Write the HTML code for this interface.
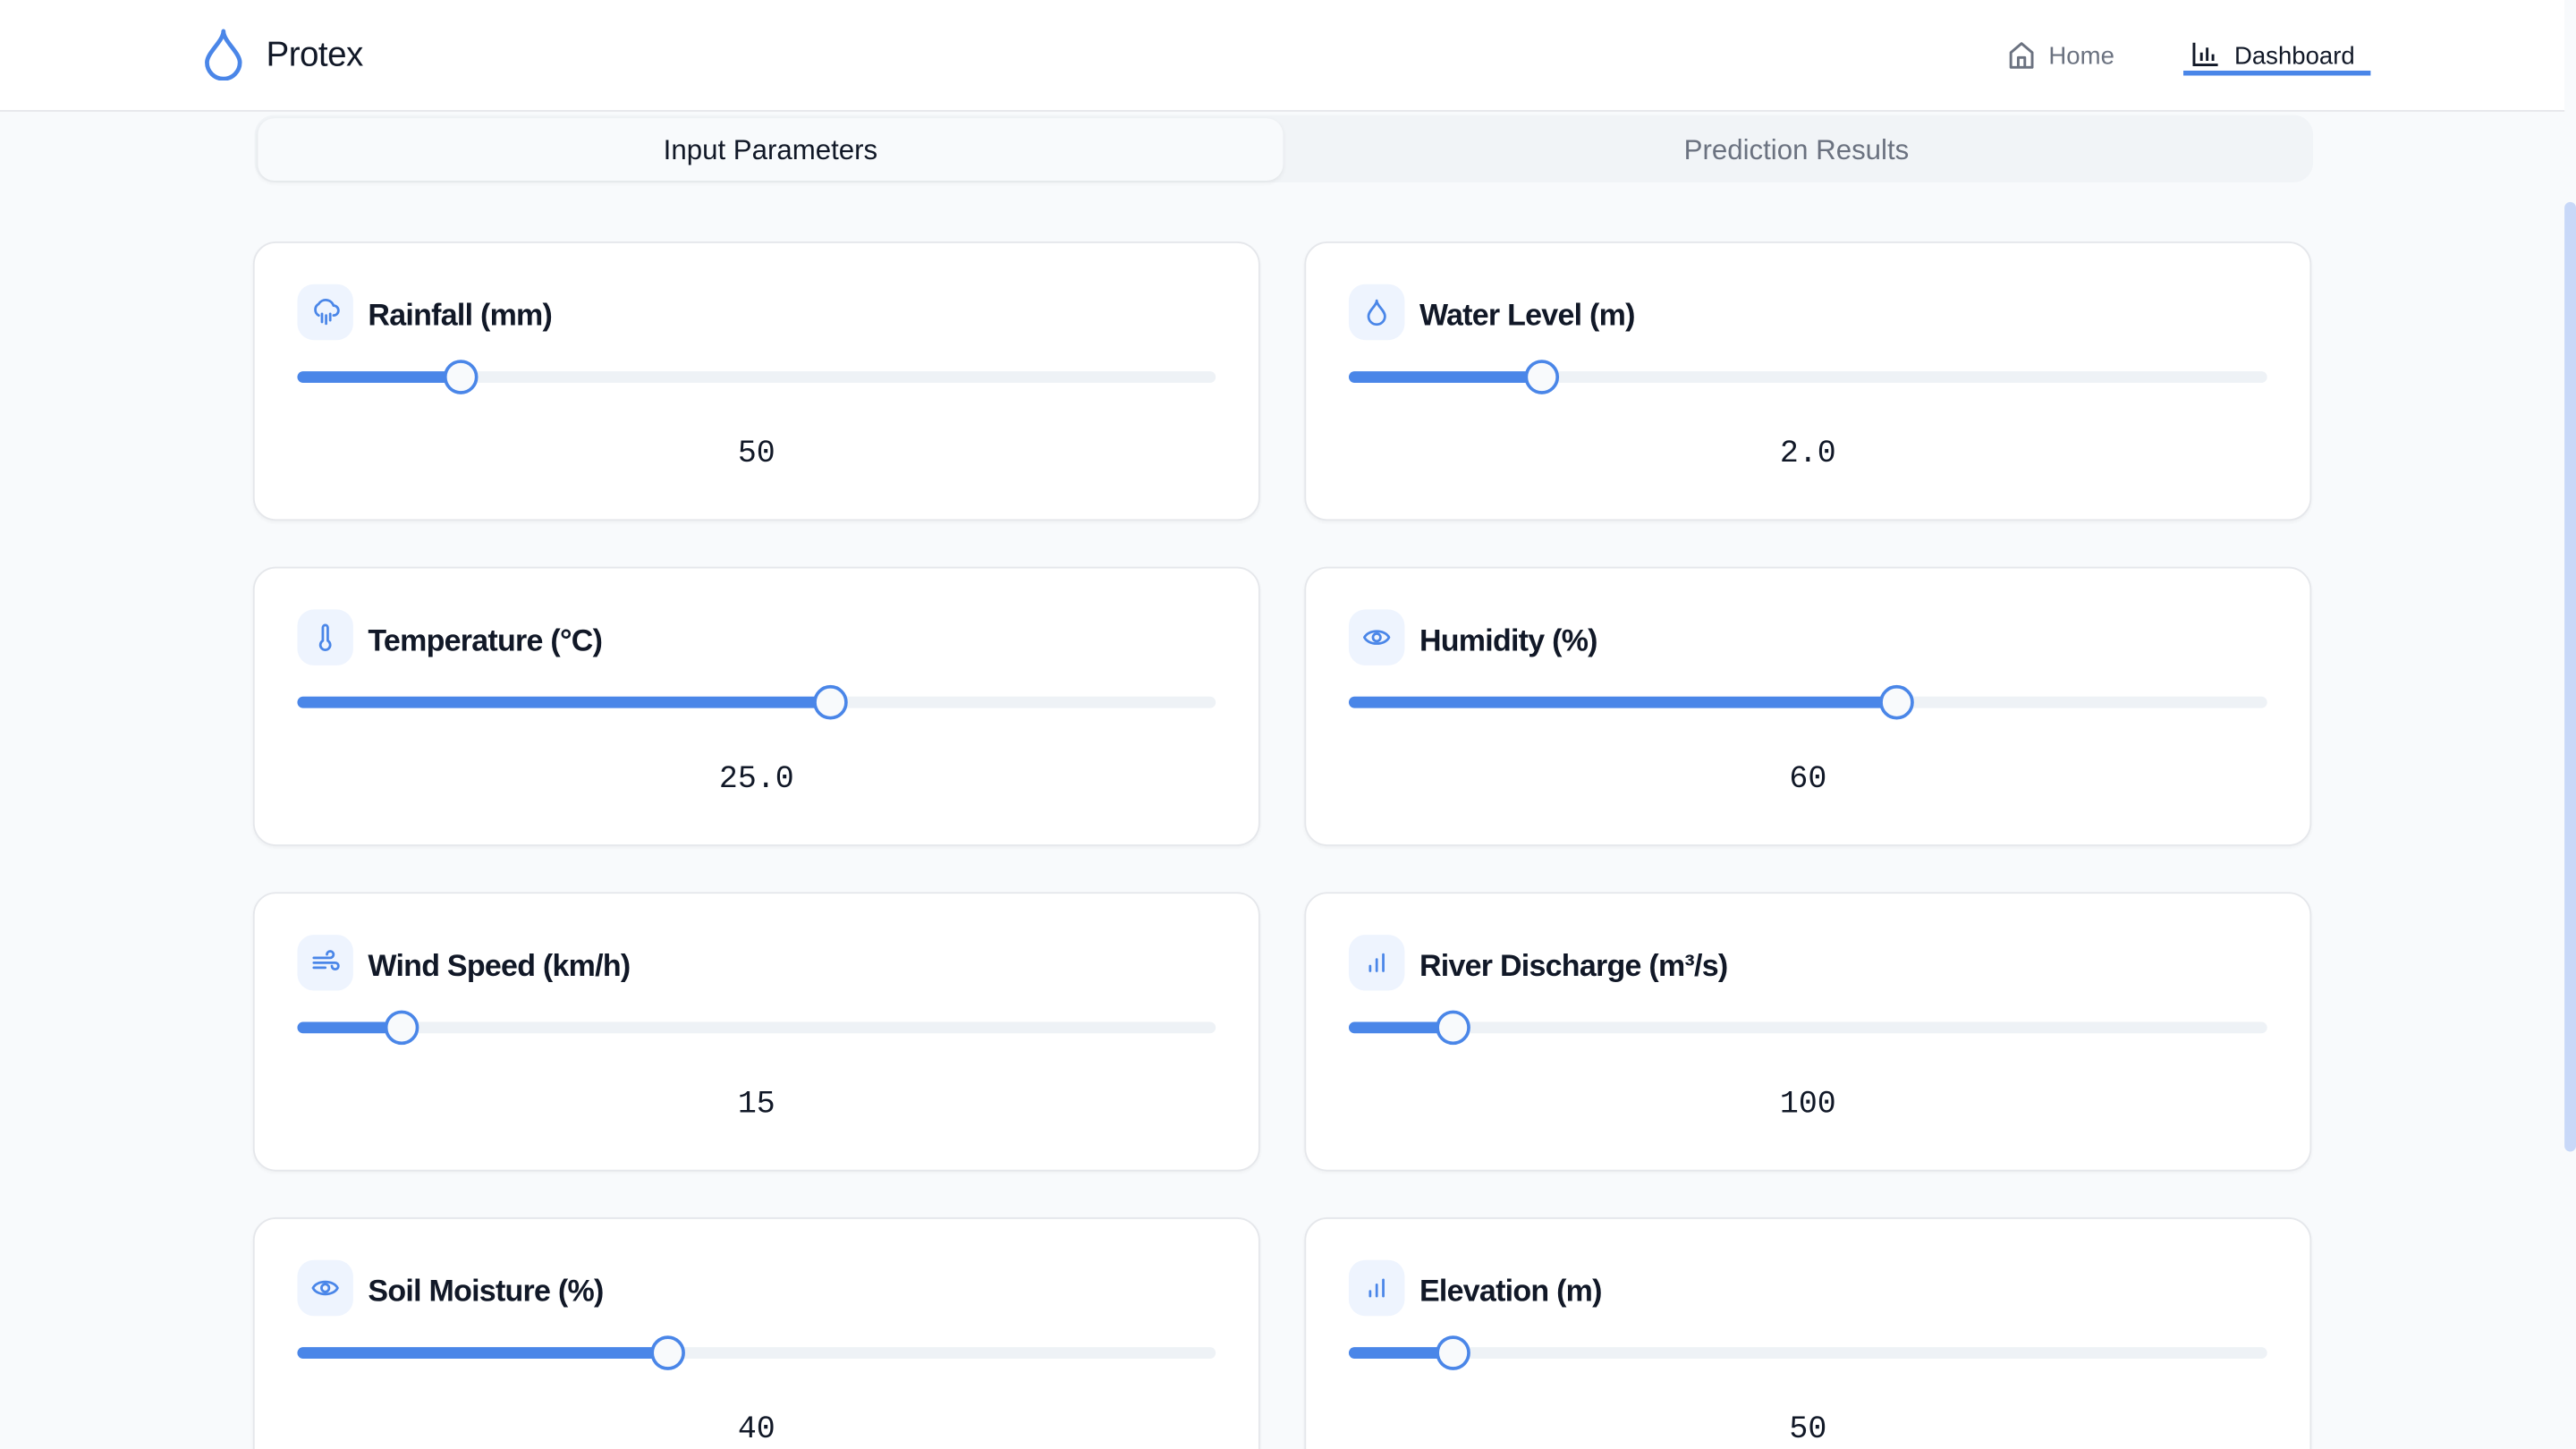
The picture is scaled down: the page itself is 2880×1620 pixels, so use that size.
<!DOCTYPE html>
<html><head><meta charset="utf-8"><style>
html,body{margin:0;padding:0;width:2880px;height:1620px;overflow:hidden;background:#f8fafc;}
#s{position:absolute;left:0;top:0;width:1568px;height:882px;transform:scale(1.836735);transform-origin:0 0;font-family:"Liberation Sans",sans-serif;background:#f8fafc;overflow:hidden;}
.hdr{position:absolute;left:0;top:0;width:1561px;height:67px;background:#fff;border-bottom:1.5px solid #e5e7eb;}
.abs{position:absolute;}
.card{position:absolute;width:613px;height:170px;background:#fff;border:1.5px solid #e5e7eb;border-radius:14px;box-sizing:border-box;box-shadow:0 1px 2px rgba(0,0,0,.04);}
.ib{position:absolute;left:26px;top:25px;width:34px;height:34px;border-radius:10px;background:#eef4fe;display:flex;align-items:center;justify-content:center;}
.tt{position:absolute;left:69px;top:33px;font-size:18.5px;font-weight:bold;color:#111827;letter-spacing:-0.4px;}
.tr{position:absolute;left:26px;top:78px;width:559px;height:7px;border-radius:4px;background:#eef2f6;}
.fl{position:absolute;left:0;top:0;height:7px;border-radius:4px;background:#4a86e8;}
.th{position:absolute;top:-7px;width:17px;height:17px;margin-left:-10.5px;border-radius:50%;background:#f8fafc;border:2px solid #4a86e8;}
.vl{position:absolute;left:0;width:100%;top:117px;text-align:center;font-family:"Liberation Mono",monospace;font-size:19px;color:#111827;}
</style></head><body>
<div id="s">
<div class="hdr">
 <svg class="abs" style="left:122px;top:17px" width="28" height="32" viewBox="0 0 28 32"><path d="M14 2 C14 8 4 15 4 21 A10 10 0 0 0 24 21 C24 15 14 8 14 2Z" fill="none" stroke="#4a86e8" stroke-width="2.6" stroke-linejoin="round"/></svg>
 <div class="abs" style="left:162px;top:22px;font-size:21px;color:#111827;letter-spacing:-0.3px">Protex</div>
 <svg class="abs" style="left:1222px;top:25px" width="17" height="17" viewBox="0 0 17 17"><path d="M2 16 V7 L8.5 1.5 L15 7 V16 Z M6.5 16 V10 H10.5 V16" fill="none" stroke="#6b7280" stroke-width="1.6" stroke-linejoin="round"/></svg>
 <div class="abs" style="left:1247px;top:26px;font-size:15px;color:#6b7280">Home</div>
 <svg class="abs" style="left:1334px;top:25px" width="17" height="16" viewBox="0 0 17 16"><path d="M1.5 1 V14.5 H16 M6 12 V7 M9.5 12 V4 M13 12 V8" fill="none" stroke="#111827" stroke-width="1.6"/></svg>
 <div class="abs" style="left:1360px;top:26px;font-size:15px;color:#111827">Dashboard</div>
 <div class="abs" style="left:1329px;top:43px;width:114px;height:3px;background:#4a86e8"></div>
</div>
<div class="abs" style="left:1561px;top:68px;width:7px;height:814px;background:#f8fafc"><div class="abs" style="left:0;top:55px;width:7px;height:578px;border-radius:4px;background:#c8d8f8"></div></div>
<div class="abs" style="left:155px;top:70px;width:1253px;height:41px;border-radius:12px;background:#f1f4f7">
 <div class="abs" style="left:2px;top:2px;width:624px;height:38px;border-radius:10px;background:#f8fafc;box-shadow:0 1px 3px rgba(0,0,0,.07);line-height:40px;text-align:center;font-size:17px;color:#111827">Input Parameters</div>
 <div class="abs" style="left:626px;top:2px;width:625px;height:38px;line-height:40px;text-align:center;font-size:17px;color:#6b7280">Prediction Results</div>
</div>
<div id="cards"></div>
</div>
<script>
const labels=["Rainfall (mm)","Water Level (m)","Temperature (°C)","Humidity (%)","Wind Speed (km/h)","River Discharge (m³/s)","Soil Moisture (%)","Elevation (m)"];
const values=[50,2.0,25.0,60,15,100,40,50];
const displayValues=["50","2.0","25.0","60","15","100","40","50"];
const mins=[0,0,-10,0,0,0,0,0];
const maxs=[300,10,50,100,150,1000,100,500];
const icons=["rain","drop","thermo","eye","wind","bars","eye","bars"];
const names=["rainfall","water-level","temperature","humidity","wind-speed","river-discharge","soil-moisture","elevation"];
const P='fill="none" stroke="#4a86e8" stroke-width="1.5" stroke-linecap="round" stroke-linejoin="round"';
const ic={
rain:`<svg width="18" height="18" viewBox="0 0 18 18"><path d="M5 11 A4 4 0 0 1 5 4 A5 5 0 0 1 14 5 A3 3 0 0 1 14 11 M7 10 V15 M9.5 11 V16 M12 10 V14" ${P}/></svg>`,
drop:`<svg width="16" height="18" viewBox="0 0 16 18"><path d="M8 2 C8 5 3 8 3 11.5 A5 5 0 0 0 13 11.5 C13 8 8 5 8 2Z" ${P}/></svg>`,
thermo:`<svg width="16" height="18" viewBox="0 0 16 18"><path d="M6.5 3 A1.5 1.5 0 0 1 9.5 3 V11 A3 3 0 1 1 6.5 11 Z" ${P}/></svg>`,
eye:`<svg width="18" height="18" viewBox="0 0 18 18"><path d="M1.5 9 C4 4 14 4 16.5 9 C14 14 4 14 1.5 9Z" ${P}/><circle cx="9" cy="9" r="2.3" ${P}/></svg>`,
wind:`<svg width="18" height="18" viewBox="0 0 18 18"><path d="M2 6 H12 A2 2 0 1 0 10 4 M2 9 H15 A2 2 0 1 1 13 11 M2 12 H9" ${P}/></svg>`,
bars:`<svg width="16" height="16" viewBox="0 0 16 16"><path d="M4 13 V10 M8 13 V6 M12 13 V3" ${P}/></svg>`
};
const root=document.getElementById('cards');
const xs=[154,794], ys=[147,345,543,741];
function thumbX(v,i){return 10+(v-mins[i])/(maxs[i]-mins[i])*539;}
for(let i=0;i<labels.length;i++){
 const c=document.createElement('div');
 c.className='card';
 c.style.left=xs[i%2]+'px';c.style.top=ys[Math.floor(i/2)]+'px';
 
 
 const tx=thumbX(values[i],i);
 c.innerHTML=`<div class="ib">${ic[icons[i]]}</div><div class="tt">${labels[i]}</div>
 <div class="tr"><div class="fl" style="width:${tx}px"></div><div class="th" style="left:${tx}px"></div></div>
 <div class="vl">${displayValues[i]}</div>`;
 const q=(s)=>c.querySelector(s);
 q('.ib');
 q('.ib');
 q('.tt');
 q('.tt');
 q('.tr');
 q('.tr');
 q('.fl');
 q('.fl');
 q('.th');
 q('.th');
 q('.vl');
 q('.vl');
 root.appendChild(c);
}
</script>
</body></html>
